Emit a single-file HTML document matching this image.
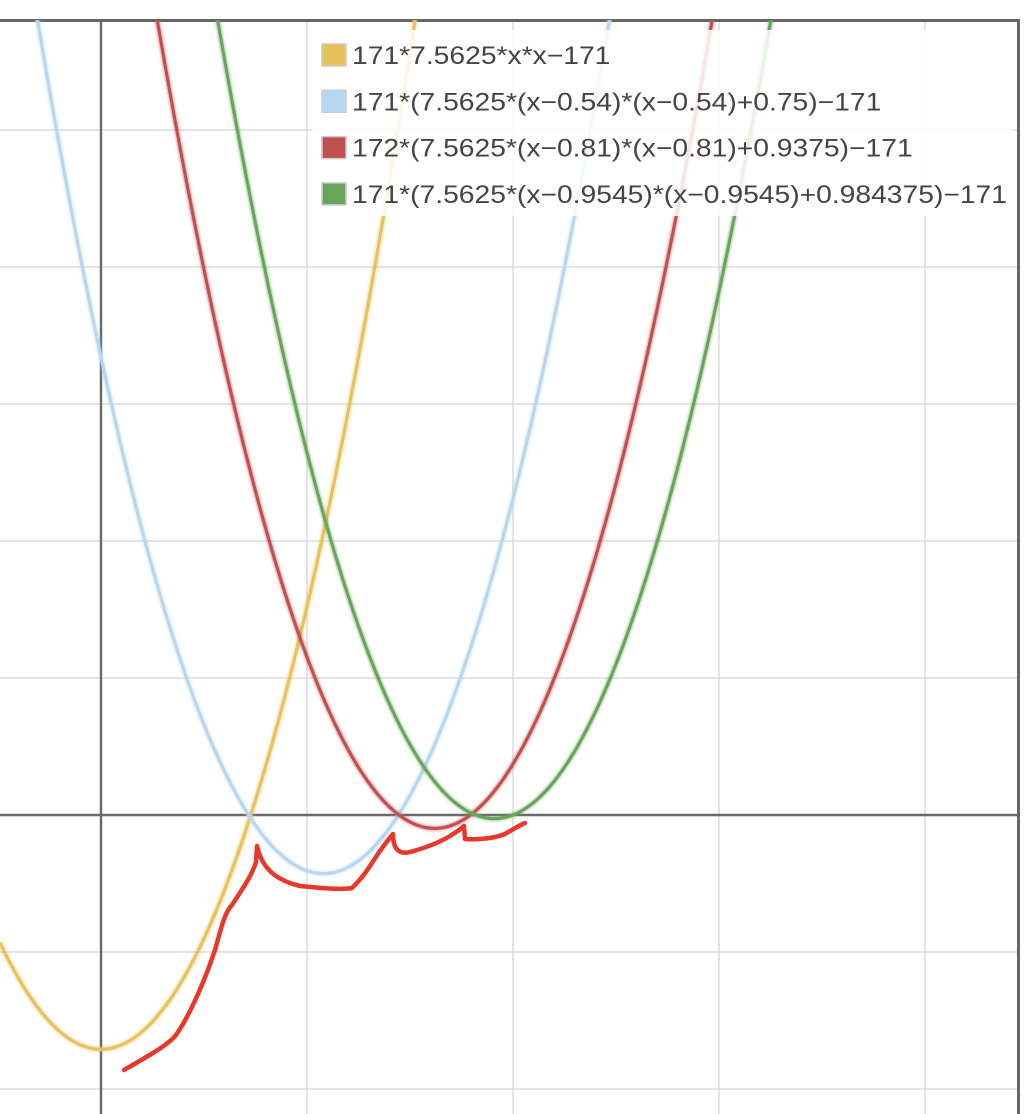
<!DOCTYPE html>
<html><head><meta charset="utf-8"><style>
html,body{margin:0;padding:0;background:#fff;width:1030px;height:1114px;overflow:hidden}
svg{display:block}
</style></head><body>
<svg id="chart" width="1030" height="1114" viewBox="0 0 1030 1114">
<defs>
<filter id="glow" x="-5%" y="-5%" width="110%" height="110%"><feGaussianBlur stdDeviation="1.6" in="SourceGraphic" result="b"/><feMerge><feMergeNode in="b"/><feMergeNode in="SourceGraphic"/></feMerge></filter>
<clipPath id="plotclip"><rect x="0" y="20" width="1018" height="1094"/></clipPath>
</defs>
<g id="grid"></g>
<g id="axes"></g>
<g id="curves" clip-path="url(#plotclip)"></g>
<g id="legend"></g>
<path fill="none" stroke="#e8382a" stroke-width="4.5" stroke-linecap="round" stroke-linejoin="round"
 d="M124,1070 C150,1055 168,1045 176,1035 C190,1015 205,980 215,950 C222,925 225,912 232,905 C245,885 252,875 256,862 L257,846 C262,868 275,880 300,886 C320,888 340,890 352,888 C362,878 366,872 372,863 C380,850 388,840 393,834 C393,848 398,855 410,852 C425,848 440,842 450,836 C456,832 460,830 464,826 L465,839 C480,840 495,838 505,834 C512,830 518,826 525,823"/>
</svg>
<script>
const xTicks=[0,0.5,1,1.5,2];
const yTicks=[-200,-100,0,100,200,300,400,500,600];
const seriesNames=["171*7.5625*x*x\u2212171","171*(7.5625*(x\u22120.54)*(x\u22120.54)+0.75)\u2212171","172*(7.5625*(x\u22120.81)*(x\u22120.81)+0.9375)\u2212171","171*(7.5625*(x\u22120.9545)*(x\u22120.9545)+0.984375)\u2212171"];
const seriesColors=["#e8c15a","#b6d7f2","#c0504d","#67a55a"];
const seriesA=[171,171,172,171];
const seriesH=[0,0.54,0.81,0.9545];
const seriesK=[0,0.75,0.9375,0.984375];
const seriesC=[-171,-171,-171,-171];
const NS="http://www.w3.org/2000/svg";
const X0=101,XS=412,Y0=815,YS=1.37;
const sx=v=>X0+v*XS, sy=v=>Y0-v*YS;
function mk(tag,attrs,parent){const e=document.createElementNS(NS,tag);for(const k in attrs)e.setAttribute(k,attrs[k]);parent.appendChild(e);return e;}
const grid=document.getElementById('grid');
xTicks.forEach(t=>{const l=mk('line',{x1:sx(t),x2:sx(t),y1:20,y2:1114,stroke:'#dcdcdc','stroke-width':1.5},grid);

});
yTicks.forEach(t=>{const l=mk('line',{x1:0,x2:1018,y1:sy(t),y2:sy(t),stroke:'#dcdcdc','stroke-width':1.5},grid);

});
const axes=document.getElementById('axes');
let a=mk('line',{x1:0,x2:1018,y1:sy(0),y2:sy(0),stroke:'#6a6a6a','stroke-width':2.5},axes);


a=mk('line',{x1:sx(0),x2:sx(0),y1:20,y2:1114,stroke:'#6a6a6a','stroke-width':2.5},axes);


a=mk('path',{d:'M0,20.5 H1018.5 V1114',fill:'none',stroke:'#666','stroke-width':3},axes);


const curves=document.getElementById('curves');
seriesNames.forEach((n,i)=>{let d='';
for(let px=0;px<=1018;px+=1){const x=(px-X0)/XS;const y=seriesA[i]*(7.5625*(x-seriesH[i])*(x-seriesH[i])+seriesK[i])+seriesC[i];let py=sy(y);if(py<-50)py=-50;d+=(px?'L':'M')+px+','+py.toFixed(2);}
const p=mk('path',{d:d,fill:'none',stroke:seriesColors[i],'stroke-width':3,filter:'url(#glow)'},curves);

});
const lg=document.getElementById('legend');
let bg=mk('rect',{x:312,y:30,width:700,height:186,fill:'#fff','fill-opacity':0.85},lg);


seriesNames.forEach((n,i)=>{const cy=55+i*46.3;
const g=mk('g',{},lg);


mk('rect',{x:322,y:cy-11,width:24,height:22,fill:seriesColors[i],stroke:'#ccc','stroke-width':1.5},g);
const t=mk('text',{x:352,y:cy+9,'font-family':'Liberation Sans, sans-serif','font-size':25,fill:'#444'},g);
t.textContent=n;
const w=t.getComputedTextLength();
t.setAttribute('textLength',(w*1.13).toFixed(1));
t.setAttribute('lengthAdjust','spacingAndGlyphs');});
</script>
</body></html>
